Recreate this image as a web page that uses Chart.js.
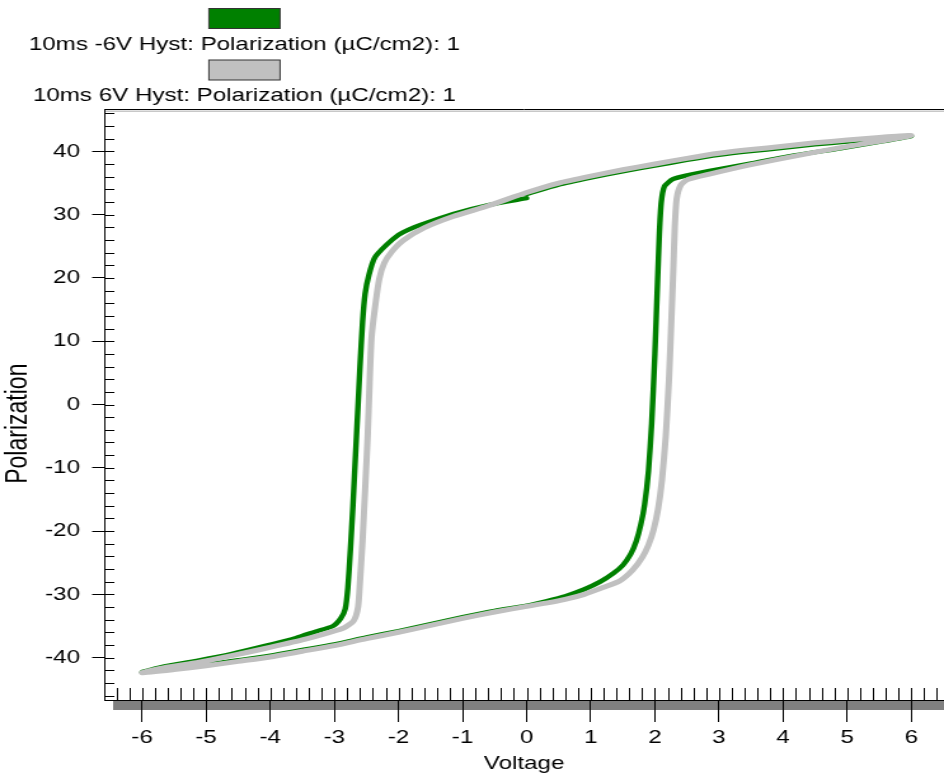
<!DOCTYPE html>
<html>
<head>
<meta charset="utf-8">
<title>Hysteresis loops</title>
<script src="https://cdn.jsdelivr.net/npm/chart.js@4.4.1/dist/chart.umd.min.js"></script>
<style>
    html, body { margin: 0; padding: 0; background: #fff; overflow: hidden; }
</style>
</head>
<body>
<!-- plot is drawn on a narrower bitmap and widened to the page width -->
<canvas id="hystChart" width="743" height="775" style="display:block;width:944px;height:775px"></canvas>
<script>
// 10ms -6V run: starts at 0 V on the upper branch, sweeps to -6 V, up to +6 V, then back to 0 V
const negVoltage = [
    0.0, -0.6, -1.15, -1.65, -1.85, -2.0, -2.2, -2.37, -2.46, -2.52, -2.56, -2.6, -2.63, -2.67, -2.71,
    -2.75, -2.79, -2.83, -2.9, -3.02, -3.3, -3.6, -4.1, -4.6, -5.15, -5.65, -6.0,
    -5.5, -5.0, -4.5, -4.0, -3.5, -3.0, -2.5, -2.0, -1.5, -1.0, -0.5, 0.0, 0.3, 0.6, 0.9, 1.15, 1.35,
    1.5, 1.62, 1.71, 1.78, 1.84, 1.9, 1.95, 2.0, 2.04, 2.07, 2.1, 2.15, 2.28, 2.5, 2.85, 3.5, 4.2, 4.9, 5.5, 6.0,
    5.5, 5.0, 4.5, 4.0, 3.5, 3.0, 2.5, 2.0, 1.5, 1.0, 0.5, 0.0
];
const negPolarization = [
    32.6, 31.5, 30.1, 28.4, 27.6, 26.8, 25.1, 23.2, 20.5, 17.5, 13.0, 6.0, 0.0, -8.0, -16.0,
    -23.0, -29.0, -32.3, -33.8, -35.0, -35.9, -36.9, -38.2, -39.4, -40.5, -41.4, -42.3,
    -41.7, -41.1, -40.4, -39.7, -38.8, -37.9, -36.8, -35.8, -34.7, -33.6, -32.6, -31.8, -31.1, -30.3, -29.2, -28.0, -26.7,
    -25.4, -23.7, -21.6, -19.0, -15.8, -10.5, -3.0, 8.0, 19.0, 27.0, 32.0, 34.5, 35.6, 36.2, 36.9, 38.1, 39.4, 40.5, 41.5, 42.4,
    41.95, 41.55, 41.1, 40.55, 40.05, 39.45, 38.65, 37.75, 36.85, 35.85, 34.75, 33.25
];

// 10ms 6V run: starts at 0 V on the lower branch, sweeps to +6 V, down to -6 V, then back to 0 V
const posVoltage = [
    0.0, 0.3, 0.6, 0.9, 1.2, 1.45, 1.65, 1.8, 1.9, 1.98, 2.05, 2.11, 2.17, 2.22, 2.26, 2.29, 2.31, 2.34,
    2.4, 2.5, 2.85, 3.5, 4.2, 4.9, 5.5, 6.0,
    5.5, 5.0, 4.5, 4.0, 3.5, 3.0, 2.5, 2.0, 1.5, 1.0, 0.5, 0.0, -0.6, -1.15, -1.6, -1.93, -2.1, -2.22,
    -2.3, -2.37, -2.42, -2.45, -2.48, -2.52, -2.56, -2.6, -2.63, -2.7, -2.85, -3.07, -3.5, -4.1, -4.6,
    -5.15, -5.65, -6.0,
    -5.5, -5.0, -4.5, -4.0, -3.5, -3.0, -2.5, -2.0, -1.5, -1.0, -0.5, 0.0
];
const posPolarization = [
    -31.9, -31.4, -30.8, -30.0, -28.9, -27.9, -26.2, -24.2, -22.2, -19.8, -16.5, -12.0, -5.0, 4.0, 14.0, 22.0, 28.0, 32.5,
    34.6, 35.5, 36.4, 37.9, 39.3, 40.6, 41.6, 42.5,
    42.2, 41.8, 41.35, 40.8, 40.3, 39.7, 38.9, 38.0, 37.1, 36.1, 35.0, 33.5, 31.4, 29.7, 27.9, 25.9, 24.2, 22.4,
    19.8, 15.0, 10.5, 3.5, -5.0, -13.5, -21.5, -28.0, -32.0, -34.2, -35.3, -36.0, -37.2, -38.6, -39.7,
    -40.8, -41.6, -42.4,
    -41.9, -41.3, -40.6, -39.9, -39.0, -38.1, -37.0, -36.0, -34.9, -33.8, -32.8, -31.9
];

const seriesLabels = [
    '10ms -6V Hyst: Polarization (µC/cm2): 1',
    '10ms 6V Hyst: Polarization (µC/cm2): 1'
];
const voltageTicks = [-6, -5, -4, -3, -2, -1, 0, 1, 2, 3, 4, 5, 6];
const polarizationTicks = [-40, -30, -20, -10, 0, 10, 20, 30, 40];

const FONT = "'Liberation Sans', Arial, sans-serif";

function toPoints(xs, ys) {
    return xs.map((x, i) => ({ x: x, y: ys[i] }));
}

// minor ticks, shadowed frame and stacked legend (swatch above its label)
const framePlugin = {
    id: 'frame',
    beforeDraw(chart) {
        const { ctx, chartArea } = chart;
        ctx.save();
        // grey shadow under the voltage axis
        ctx.fillStyle = '#808080';
        ctx.fillRect(chartArea.left + 7, chartArea.bottom, chart.width - chartArea.left - 7, 10);
        ctx.restore();
    },
    afterDraw(chart) {
        const { ctx, chartArea } = chart;
        const xScale = chart.scales.x;
        const yScale = chart.scales.y;

        ctx.save();
        ctx.lineWidth = 1;
        ctx.strokeStyle = '#000';
        ctx.beginPath();
        // voltage minor ticks every 0.2 V, pointing into the plot
        for (let i = -32; i <= 32; i++) {
            const px = Math.round(xScale.getPixelForValue(i / 5)) + 0.5;
            if (px < chartArea.left + 2 || px > chartArea.right) continue;
            ctx.moveTo(px, chartArea.bottom - 12);
            ctx.lineTo(px, chartArea.bottom);
        }
        // polarization minor ticks every 2
        for (let v = -46; v <= 46; v += 2) {
            const py = Math.round(yScale.getPixelForValue(v)) + 0.5;
            ctx.moveTo(chartArea.left, py);
            ctx.lineTo(chartArea.left + 8, py);
        }
        // top edge of the frame
        ctx.moveTo(chartArea.left, chartArea.top + 0.5);
        ctx.lineTo(chart.width, chartArea.top + 0.5);
        ctx.stroke();

        ctx.strokeStyle = '#c8c8c8';
        ctx.lineWidth = 1.5;
        ctx.beginPath();
        ctx.moveTo(chartArea.left + 1, chartArea.top + 2.2);
        ctx.lineTo(chart.width, chartArea.top + 2.2);
        ctx.stroke();

        // legend
        const cx = 192.4;
        ctx.font = '19px ' + FONT;
        ctx.textAlign = 'center';
        ctx.textBaseline = 'middle';
        chart.data.datasets.forEach((ds, i) => {
            const top = 8.5 + i * 51.5;
            ctx.fillStyle = ds.borderColor;
            ctx.fillRect(cx - 28, top, 56, 20);
            ctx.strokeStyle = '#333';
            ctx.lineWidth = 1;
            ctx.strokeRect(cx - 28, top, 56, 20);
            ctx.fillStyle = '#000';
            ctx.fillText(ds.label, cx, 44.5 + i * 51);
        });
        ctx.restore();
    }
};

const ctx = document.getElementById('hystChart').getContext('2d');

new Chart(ctx, {
    type: 'scatter',
    data: {
        datasets: [
            {
                label: seriesLabels[0],
                data: toPoints(negVoltage, negPolarization),
                borderColor: '#008000',
                backgroundColor: '#008000',
                borderWidth: 4.4,
                order: 1
            },
            {
                label: seriesLabels[1],
                data: toPoints(posVoltage, posPolarization),
                borderColor: '#c0c0c0',
                backgroundColor: '#c0c0c0',
                borderWidth: 5.0,
                order: 0
            }
        ]
    },
    options: {
        responsive: false,
        animation: false,
        events: [],
        showLine: true,
        elements: {
            point: { radius: 0 },
            line: { tension: 0.2, borderCapStyle: 'round', borderJoinStyle: 'round', fill: false }
        },
        layout: { padding: { top: 109, left: 0, right: 0, bottom: 0 } },
        scales: {
            x: {
                type: 'linear',
                min: -6.59,
                max: 6.51,
                afterFit: (scale) => { scale.height = 75; },
                afterBuildTicks: (scale) => { scale.ticks = voltageTicks.map(v => ({ value: v })); },
                ticks: { color: '#000', font: { family: FONT, size: 19 }, padding: 4, maxRotation: 0, autoSkip: false },
                grid: { drawOnChartArea: false, drawTicks: true, tickLength: 22, tickColor: '#000', tickWidth: 1 },
                border: { display: true, color: '#000', width: 1 },
                title: { display: true, text: 'Voltage', color: '#000', font: { family: FONT, size: 19 }, padding: { top: 0, bottom: 0 } }
            },
            y: {
                type: 'linear',
                min: -46.7,
                max: 46.7,
                afterFit: (scale) => { scale.width = 82; },
                afterBuildTicks: (scale) => { scale.ticks = polarizationTicks.map(v => ({ value: v })); },
                ticks: { color: '#000', font: { family: FONT, size: 19 }, padding: 9.5 },
                grid: { drawOnChartArea: false, drawTicks: true, tickLength: 9.5, tickColor: '#000', tickWidth: 1 },
                border: { display: true, color: '#000', width: 1 },
                // trailing spaces push the rotated title a little below the axis middle
                title: { display: true, text: 'Polarization      ', color: '#000', font: { family: FONT, size: 23 }, padding: { top: 1, bottom: 0 } }
            }
        },
        plugins: {
            legend: { display: false },
            tooltip: { enabled: false }
        }
    },
    plugins: [framePlugin]
});
</script>
</body>
</html>
